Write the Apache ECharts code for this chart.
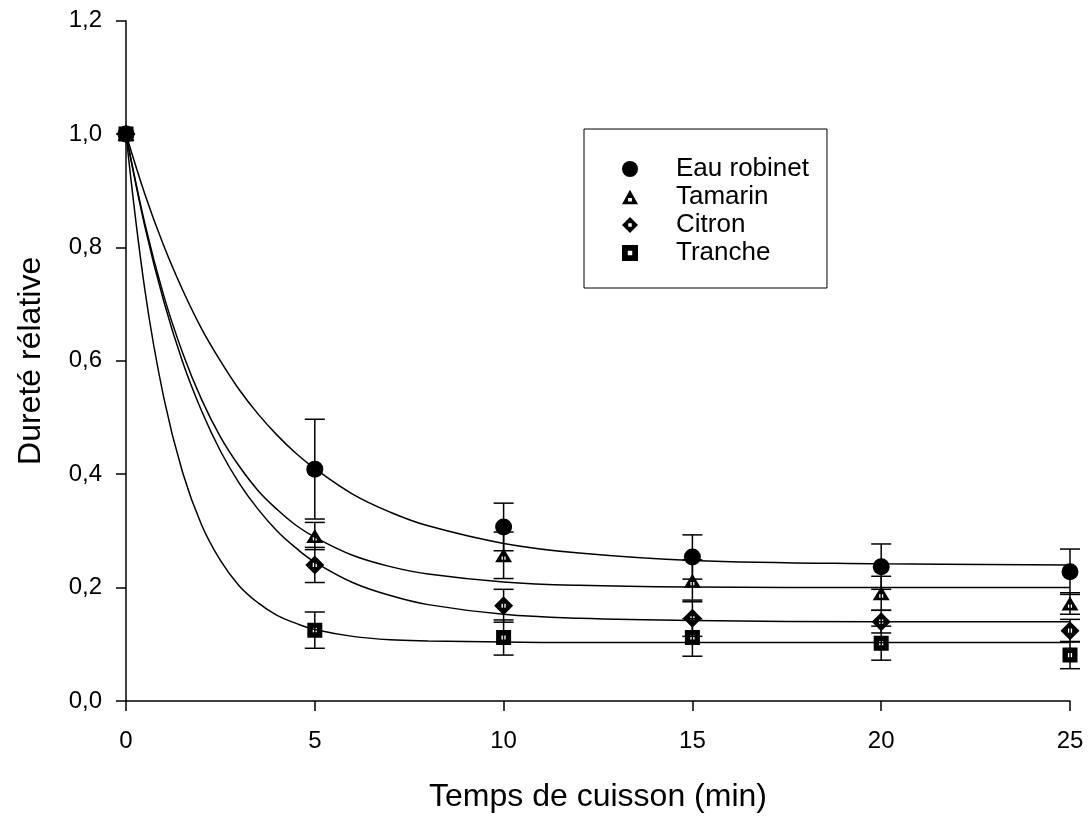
<!DOCTYPE html>
<html>
<head>
<meta charset="utf-8">
<script src="https://cdn.jsdelivr.net/npm/echarts@6/dist/echarts.min.js"></script>
<style>
html,body{margin:0;padding:0;background:#fff;}
#chart{width:1091px;height:818px;}
</style>
</head>
<body>
<div id="chart"></div>
<script>
// ---- data ----
const xValues = [0, 5, 10, 15, 20, 25];
const eauMean = [1.0, 0.409, 0.307, 0.254, 0.237, 0.228];
const eauErr = [0, 0.088, 0.042, 0.039, 0.040, 0.040];
const tamarinMean = [1.0, 0.291, 0.257, 0.212, 0.190, 0.172];
const tamarinErr = [0, 0.024, 0.041, 0.037, 0.030, 0.019];
const citronMean = [1.0, 0.240, 0.168, 0.146, 0.140, 0.124];
const citronErr = [0, 0.031, 0.029, 0.032, 0.020, 0.020];
const trancheMean = [1.0, 0.125, 0.112, 0.112, 0.102, 0.081];
const trancheErr = [0, 0.032, 0.031, 0.033, 0.030, 0.024];

// fitted curves
const curveX = [0, 0.5, 1, 1.5, 2, 2.5, 3, 3.5, 4, 4.5, 5, 6, 7, 8, 10, 12, 15, 20, 25];
const eauCurve = [1.0, 0.894, 0.803, 0.725, 0.657, 0.600, 0.549, 0.506, 0.469, 0.437, 0.410, 0.365, 0.333, 0.309, 0.278, 0.261, 0.248, 0.242, 0.240];
const tamarinCurve = [1.0, 0.842, 0.715, 0.614, 0.532, 0.466, 0.414, 0.371, 0.338, 0.310, 0.289, 0.257, 0.237, 0.224, 0.210, 0.204, 0.201, 0.200, 0.200];
const citronCurve = [1.0, 0.837, 0.705, 0.598, 0.512, 0.441, 0.384, 0.338, 0.300, 0.270, 0.245, 0.209, 0.186, 0.170, 0.153, 0.146, 0.142, 0.140, 0.140];
const trancheCurve = [1.0, 0.725, 0.535, 0.403, 0.311, 0.248, 0.203, 0.173, 0.151, 0.137, 0.126, 0.114, 0.108, 0.106, 0.104, 0.103, 0.103, 0.103, 0.103];

const seriesNames = ['Eau robinet', 'Tamarin', 'Citron', 'Tranche'];
const yTicks = ['0,0', '0,2', '0,4', '0,6', '0,8', '1,0', '1,2'];
const xTitle = 'Temps de cuisson (min)';
const yTitle = 'Dureté rélative';

// ---- styling ----
const FONT = '"Liberation Sans", Arial, sans-serif';
const triPath = 'path://M0,-10L10,8L-10,8Z M-2.4,0.4L-2.4,4.6L2.4,4.6L2.4,0.4Z';
const diaPath = 'path://M0,-10L10,0L0,10L-10,0Z M-2.2,-2.2L-2.2,2.2L2.2,2.2L2.2,-2.2Z';
const sqPath = 'path://M-10,-10L10,-10L10,10L-10,10Z M-2.8,-2.8L-2.8,2.8L2.8,2.8L2.8,-2.8Z';
const symbols = ['circle', triPath, diaPath, sqPath];
const symSizes = [17, [17, 14], 19, 15];
const means = [eauMean, tamarinMean, citronMean, trancheMean];
const errs = [eauErr, tamarinErr, citronErr, trancheErr];
const curves = [eauCurve, tamarinCurve, citronCurve, trancheCurve];

const series = [];
curves.forEach((c, i) => {
  series.push({
    name: 'fit' + i, type: 'line', data: curveX.map((x, k) => [x, c[k]]),
    showSymbol: false, smooth: 0.4, silent: true,
    lineStyle: {color: '#000', width: 1.5}, z: 2
  });
});
means.forEach((m, i) => {
  series.push({
    name: 'err' + i, type: 'custom', z: 3, silent: true,
    data: xValues.map((x, k) => [x, m[k], errs[i][k]]),
    renderItem: function (params, api) {
      const x = api.value(0), y = api.value(1), e = api.value(2);
      if (!e) return null;
      const top = api.coord([x, y + e]);
      const bot = api.coord([x, y - e]);
      const w = 10;
      const st = {stroke: '#000', lineWidth: 1.5};
      return {type: 'group', children: [
        {type: 'line', shape: {x1: top[0], y1: top[1], x2: bot[0], y2: bot[1]}, style: st},
        {type: 'line', shape: {x1: top[0] - w, y1: top[1], x2: top[0] + w, y2: top[1]}, style: st},
        {type: 'line', shape: {x1: bot[0] - w, y1: bot[1], x2: bot[0] + w, y2: bot[1]}, style: st}
      ]};
    }
  });
});
means.forEach((m, i) => {
  series.push({
    name: seriesNames[i], type: 'scatter', z: 5,
    data: xValues.map((x, k) => [x, m[k]]),
    symbol: symbols[i], symbolSize: symSizes[i],
    itemStyle: {color: '#000', opacity: 1}
  });
});

const chart = echarts.init(document.getElementById('chart'), null, {renderer: 'canvas'});
chart.setOption({
  animation: false,
  backgroundColor: '#fff',
  grid: {left: 126, right: 21, top: 20.7, bottom: 117, containLabel: false},
  legend: {
    orient: 'vertical', left: 584, top: 129,
    data: seriesNames.map((n, i) => ({name: n, icon: symbols[i]})),
    itemWidth: 16, itemHeight: 16, itemGap: 2,
    padding: [27, 18, 22, 38],
    borderColor: '#000', borderWidth: 1,
    textStyle: {fontFamily: FONT, fontSize: 26, color: '#000', lineHeight: 26, padding: [0, 0, 0, 33]},
    itemStyle: {color: '#000'}
  },
  xAxis: {
    type: 'value', min: 0, max: 25, interval: 5,
    name: xTitle, nameLocation: 'middle', nameGap: 80,
    nameTextStyle: {fontFamily: FONT, fontSize: 32, color: '#000'},
    axisLine: {onZero: false, lineStyle: {color: '#000', width: 1.5}},
    axisTick: {inside: false, length: 10, lineStyle: {color: '#000', width: 1.5}},
    axisLabel: {fontFamily: FONT, fontSize: 24, color: '#000', margin: 28},
    splitLine: {show: false}
  },
  yAxis: {
    type: 'value', min: 0, max: 1.2, interval: 0.2,
    name: yTitle, nameLocation: 'middle', nameGap: 79, nameRotate: 90,
    nameTextStyle: {fontFamily: FONT, fontSize: 32, color: '#000'},
    axisLine: {show: true, onZero: false, lineStyle: {color: '#000', width: 1.5}},
    axisTick: {show: true, inside: false, length: 10, lineStyle: {color: '#000', width: 1.5}},
    axisLabel: {fontFamily: FONT, fontSize: 24, color: '#000', margin: 24,
      formatter: function (v) { return yTicks[Math.round(v / 0.2)]; }},
    splitLine: {show: false}
  },
  series: series
});
</script>
</body>
</html>
